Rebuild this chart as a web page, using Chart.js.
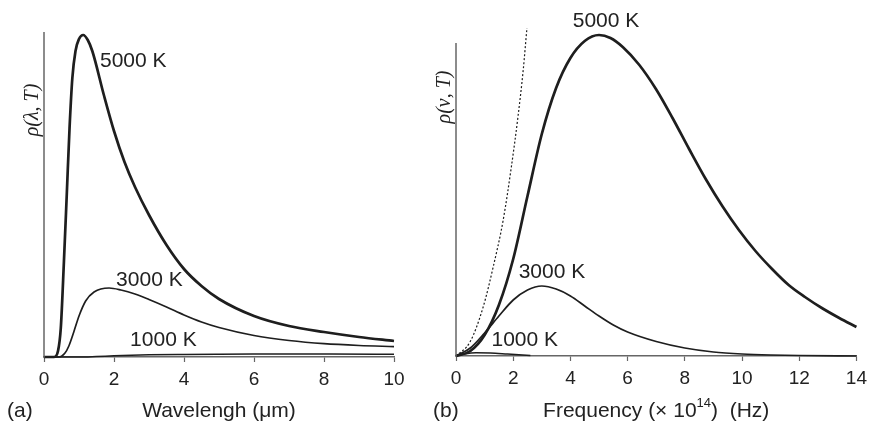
<!DOCTYPE html>
<html>
<head>
<meta charset="utf-8">
<script src="https://cdn.jsdelivr.net/npm/chart.js@4/dist/chart.umd.min.js"></script>
<style>
  html, body { margin: 0; padding: 0; background: #fff; }
  #wrap { position: relative; width: 873px; height: 424px; }
  #wl { position: absolute; left: 0; top: 0; }
  #fr { position: absolute; left: 430px; top: 0; }
</style>
</head>
<body>
<div id="wrap">
  <canvas id="wl" width="430" height="424"></canvas>
  <canvas id="fr" width="443" height="424"></canvas>
</div>
<script>
// (a) rho(lambda, T), arbitrary units, lambda in um
var wlTicks = [0, 2, 4, 6, 8, 10];
var wl5000 = [[0, 0], [0.29, 0], [0.4, 6], [0.48, 29], [0.57, 96], [0.65, 162], [0.73, 229], [0.81, 279],
  [0.9, 306], [1.0, 318], [1.12, 322], [1.25, 317], [1.38, 306], [1.71, 262], [2.0, 226], [2.3, 195],
  [2.6, 170], [3.0, 142], [3.5, 112], [4.0, 88], [4.5, 71], [5.0, 58], [6.0, 41], [7.0, 31],
  [8.0, 25], [9.0, 20], [10.0, 16]];
var wl3000 = [[0, 0], [0.42, 0], [0.6, 4], [0.71, 11], [0.86, 26], [1.0, 41], [1.19, 56], [1.43, 65],
  [1.86, 69], [2.2, 67], [2.6, 63], [3.0, 57.5], [3.5, 50], [4.0, 42], [4.5, 35], [5.0, 29.5],
  [6.0, 21.5], [7.0, 16.5], [8.0, 13.3], [9.0, 11.5], [10.0, 10.4]];
var wl1000 = [[0, 0], [1.0, 0], [1.5, 0.5], [2.0, 1.2], [3.0, 2.2], [4.0, 2.6], [5.0, 2.8], [6.0, 2.9],
  [8.0, 2.9], [10.0, 2.8]];

// (b) rho(nu, T), arbitrary units, nu in 1e14 Hz
var frTicks = [0, 2, 4, 6, 8, 10, 12, 14];
var fr5000 = [[0, 0], [0.5, 5], [1.0, 21], [1.5, 51], [2.0, 97], [2.5, 160], [3.0, 222], [3.5, 268],
  [4.0, 298], [4.5, 315], [5.0, 321], [5.4, 318], [5.83, 309], [6.41, 291], [6.99, 267], [7.57, 238],
  [8.15, 207], [8.73, 177], [9.31, 150], [9.89, 126], [10.47, 105], [11.05, 87], [11.63, 71],
  [12.2, 59], [12.79, 48], [13.4, 38], [14.0, 29]];
var fr3000 = [[0, 0], [0.5, 8], [1.0, 23], [1.5, 40], [2.0, 56], [2.5, 66], [3.0, 70], [3.5, 67],
  [4.0, 60], [4.5, 50], [5.0, 40], [5.5, 31], [6.0, 24], [7.0, 14.5], [8.0, 8], [9.0, 4], [10.0, 2],
  [11.0, 1], [12.0, 0.5], [14.0, 0]];
var fr1000 = [[0, 0], [0.3, 2], [0.7, 3.2], [1.2, 3], [1.8, 2], [2.6, 0.6]];
var frRayleigh = [[0, 0], [0.49, 14], [0.95, 49], [1.3, 89], [1.65, 136], [1.94, 190], [2.17, 240],
  [2.35, 286], [2.48, 328]];

var ink = '#1e1e1e';
var axisGrey = '#666';
var sans = '"Liberation Sans", Arial, sans-serif';

function line(label, data, width, dash) {
  return {
    label: label,
    data: data,
    borderColor: ink,
    borderWidth: width,
    borderDash: dash || [],
    pointRadius: 0,
    fill: false,
    clip: false,
    cubicInterpolationMode: 'monotone'
  };
}

// draws y axis line, curve labels and titles
var annotate = {
  id: 'annotate',
  afterDraw: function (chart, args, o) {
    var ctx = chart.ctx, xs = chart.scales.x, ys = chart.scales.y;
    ctx.save();
    ctx.strokeStyle = axisGrey;
    ctx.lineWidth = 1.5;
    ctx.beginPath();
    ctx.moveTo(xs.left, ys.getPixelForValue(0) + 0.75);
    ctx.lineTo(xs.left, ys.getPixelForValue(o.yAxisTop));
    ctx.stroke();

    ctx.fillStyle = '#222';
    ctx.font = '21px ' + sans;
    ctx.textAlign = 'left';
    ctx.textBaseline = 'middle';
    o.labels.forEach(function (l) {
      ctx.fillText(l.text, xs.getPixelForValue(l.x), ys.getPixelForValue(l.y));
    });

    // panel letter
    ctx.fillText(o.letter, o.letterX, 411);

    // x title, with optional superscript
    var parts = o.xTitle;
    var total = 0;
    parts.forEach(function (p) {
      ctx.font = (p.sup ? '13px ' : '21px ') + sans;
      p.w = ctx.measureText(p.t).width;
      total += p.w;
    });
    var x = (xs.left + xs.right) / 2 - total / 2;
    parts.forEach(function (p) {
      ctx.font = (p.sup ? '13px ' : '21px ') + sans;
      ctx.fillText(p.t, x, p.sup ? 403 : 411);
      x += p.w;
    });

    // y title
    ctx.translate(o.yTitleX, o.yTitleY);
    ctx.rotate(-Math.PI / 2);
    ctx.textAlign = 'center';
    ctx.font = 'italic 20px "Liberation Serif", "Times New Roman", serif';
    ctx.fillText(o.yTitle, 0, 0);
    ctx.restore();
  }
};

function makeChart(id, ticks, xMax, yMax, leftW, pad, datasets, notes) {
  return new Chart(id, {
    type: 'line',
    data: { datasets: datasets },
    options: {
      responsive: false,
      animation: false,
      layout: { padding: pad },
      plugins: { legend: { display: false }, tooltip: { enabled: false }, annotate: notes },
      scales: {
        x: {
          type: 'linear',
          min: 0,
          max: xMax,
          afterBuildTicks: function (s) { s.ticks = ticks.map(function (v) { return { value: v }; }); },
          afterFit: function (s) { s.height = pad.bottomAxis; },
          ticks: { color: '#222', font: { family: sans, size: 19 }, padding: 6, maxRotation: 0, autoSkip: false },
          grid: { drawOnChartArea: false, drawTicks: true, tickLength: 5, tickColor: axisGrey, tickWidth: 1.2 },
          border: { display: true, color: axisGrey, width: 1.5 }
        },
        y: {
          min: 0,
          max: yMax,
          ticks: { display: false },
          grid: { display: false },
          border: { display: false },
          afterFit: function (s) { s.width = leftW; }
        }
      }
    },
    plugins: [annotate]
  });
}

makeChart('wl', wlTicks, 10, 325, 44, { top: 32, right: 36, left: 0, bottom: 0, bottomAxis: 67 }, [
  line('5000 K', wl5000, 2.7),
  line('3000 K', wl3000, 1.7),
  line('1000 K', wl1000, 1.5)
], {
  yAxisTop: 325,
  labels: [
    { text: '5000 K', x: 1.6, y: 296 },
    { text: '3000 K', x: 2.06, y: 77 },
    { text: '1000 K', x: 2.46, y: 17 }
  ],
  letter: '(a)', letterX: 7,
  xTitle: [{ t: 'Wavelengh (\u03bcm)' }],
  yTitle: '\u03c1(\u03bb, T)', yTitleX: 33, yTitleY: 110
});

makeChart('fr', frTicks, 14, 331, 26, { top: 25, right: 15, left: 0, bottom: 0, bottomAxis: 68 }, [
  line('5000 K', fr5000, 2.7),
  line('3000 K', fr3000, 1.7),
  line('1000 K', fr1000, 1.5),
  line('Rayleigh-Jeans', frRayleigh, 1.2, [2, 2])
], {
  yAxisTop: 313,
  labels: [
    { text: '5000 K', x: 4.08, y: 335 },
    { text: '3000 K', x: 2.19, y: 84 },
    { text: '1000 K', x: 1.24, y: 16 }
  ],
  letter: '(b)', letterX: 3,
  xTitle: [{ t: 'Frequency (\u00d7 10' }, { t: '14', sup: true }, { t: ')  (Hz)' }],
  yTitle: '\u03c1(\u03bd, T)', yTitleX: 15, yTitleY: 97
});
</script>
</body>
</html>
